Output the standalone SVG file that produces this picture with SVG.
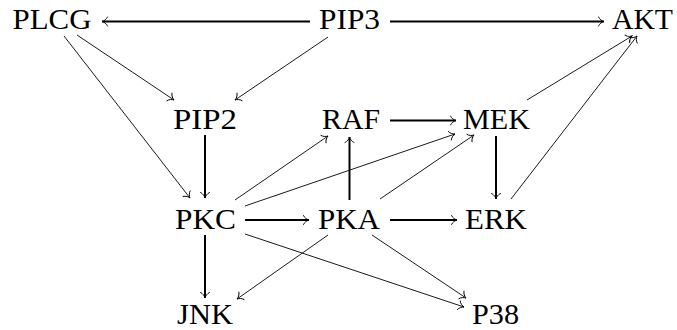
<svg xmlns="http://www.w3.org/2000/svg" width="677" height="330" viewBox="0 0 677 330">
<style>
.e line{stroke:#000;fill:none;marker-end:url(#arr)}
.thin{stroke-width:0.9}
.thick{stroke-width:2}
</style>
<defs>
<marker id="arr" markerUnits="userSpaceOnUse" markerWidth="12" markerHeight="12" viewBox="-7 -6 8 12" refX="0" refY="0" orient="auto" overflow="visible">
<path d="M-5.5,-4.5 C-4.5,-2 -1.8,-0.5 0,0 C-1.8,0.5 -4.5,2 -5.5,4.5" fill="none" stroke="#000" stroke-width="0.9" stroke-linecap="round"/>
</marker>
</defs>
<rect width="677" height="330" fill="#fff"/>
<g id="edges" class="e">
<line class="thick" x1="310" y1="21.5" x2="102" y2="21.5"/>
<line class="thick" x1="390" y1="21.5" x2="604" y2="21.5"/>
<line class="thin" x1="77" y1="35" x2="174" y2="100"/>
<line class="thin" x1="64" y1="36" x2="190" y2="198"/>
<line class="thin" x1="328" y1="37" x2="235" y2="100"/>
<line class="thick" x1="205" y1="135" x2="205" y2="198"/>
<line class="thick" x1="390" y1="120.5" x2="456" y2="120.5"/>
<line class="thin" x1="527" y1="100" x2="632" y2="36"/>
<line class="thin" x1="511" y1="199" x2="637" y2="36"/>
<line class="thick" x1="496" y1="136" x2="496" y2="199"/>
<line class="thin" x1="235" y1="200" x2="328" y2="136"/>
<line class="thin" x1="245" y1="206" x2="455" y2="134"/>
<line class="thick" x1="349.5" y1="200" x2="349.5" y2="137"/>
<line class="thin" x1="380" y1="199" x2="474" y2="135"/>
<line class="thick" x1="245" y1="220" x2="309" y2="220"/>
<line class="thick" x1="390" y1="220" x2="457" y2="220"/>
<line class="thick" x1="205" y1="235" x2="205" y2="298"/>
<line class="thin" x1="328" y1="235" x2="237" y2="299"/>
<line class="thin" x1="245" y1="234" x2="464" y2="307"/>
<line class="thin" x1="372" y1="235" x2="466" y2="298"/>
</g>
<g font-family="Liberation Serif, Times New Roman, serif" font-size="30" fill="#000" text-anchor="middle">
<g id="PLCG"><text x="52" y="29" textLength="79" lengthAdjust="spacingAndGlyphs">PLCG</text></g>
<g id="PIP3"><text x="349.5" y="29" textLength="61" lengthAdjust="spacingAndGlyphs">PIP3</text></g>
<g id="AKT"><text x="642.5" y="29" textLength="61" lengthAdjust="spacingAndGlyphs">AKT</text></g>
<g id="PIP2"><text x="205" y="128.5" textLength="64" lengthAdjust="spacingAndGlyphs">PIP2</text></g>
<g id="RAF"><text x="351" y="128.5" textLength="58" lengthAdjust="spacingAndGlyphs">RAF</text></g>
<g id="MEK"><text x="496.5" y="128.5" textLength="67" lengthAdjust="spacingAndGlyphs">MEK</text></g>
<g id="PKC"><text x="205.5" y="228.5" textLength="61" lengthAdjust="spacingAndGlyphs">PKC</text></g>
<g id="PKA"><text x="349" y="228.5" textLength="62" lengthAdjust="spacingAndGlyphs">PKA</text></g>
<g id="ERK"><text x="496" y="228.5" textLength="62" lengthAdjust="spacingAndGlyphs">ERK</text></g>
<g id="JNK"><text x="205" y="323.5" textLength="56" lengthAdjust="spacingAndGlyphs">JNK</text></g>
<g id="P38"><text x="495.5" y="323.5" textLength="47" lengthAdjust="spacingAndGlyphs">P38</text></g>
</g>
</svg>
